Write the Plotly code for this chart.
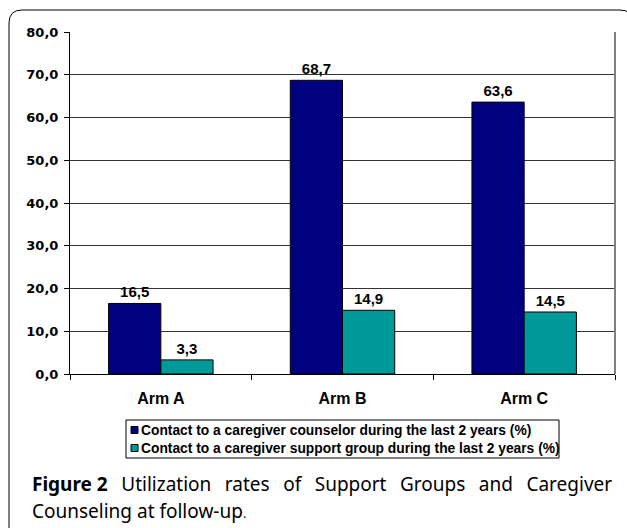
import plotly.graph_objects as go

categories = ["Arm A", "Arm B", "Arm C"]
counselor = [16.5, 68.7, 63.6]
support_group = [3.3, 14.9, 14.5]
series_names = [
    "Contact to a caregiver counselor during the last 2 years (%)",
    "Contact to a caregiver support group during the last 2 years (%)",
]
y_ticks = [0, 10, 20, 30, 40, 50, 60, 70, 80]
caption_bold = "Figure 2"
caption_line1_words = ["Utilization", "rates", "of", "Support", "Groups", "and", "Caregiver"]
caption_line2 = "Counseling at follow-up"

W, H = 627, 528
L, R, T, B = 70, 12, 32, 154
PW, PH = W - L - R, H - T - B


def px(x):
    return (x - L) / PW


def py(y):
    return (H - B - y) / PH


colors = ["#000080", "#009999"]
fig = go.Figure()
for name, vals, c in zip(series_names, [counselor, support_group], colors):
    fig.add_trace(go.Bar(
        x=categories, y=vals, name=name,
        marker=dict(color=c, line=dict(color="black", width=1)),
        texttemplate="%{y:.1f}", textposition="outside",
        textfont=dict(family="Liberation Sans", size=15, color="black", weight="bold"),
        cliponaxis=False, showlegend=False,
    ))

frame_path = (
    f"M {px(9)},{py(540)} L {px(9)},{py(23)} Q {px(9)},{py(10)} {px(22)},{py(10)} "
    f"L {px(620)},{py(10)} Q {px(633)},{py(10)} {px(633)},{py(23)} L {px(633)},{py(540)}"
)

shapes = [
    dict(type="line", xref="paper", yref="paper", x0=1, x1=1, y0=0, y1=1,
         line=dict(color="#808080", width=2)),
    dict(type="path", xref="paper", yref="paper", path=frame_path,
         line=dict(color="black", width=1)),
    # legend box
    dict(type="rect", xref="paper", yref="paper", x0=px(126), x1=px(559), y0=py(420), y1=py(458),
         line=dict(color="black", width=1), fillcolor="white"),
]
annotations = []
row_y = [430, 448]
for name, c, ry in zip(series_names, colors, row_y):
    shapes.append(dict(type="rect", xref="paper", yref="paper",
                       x0=px(131), x1=px(138), y0=py(ry - 3.5), y1=py(ry + 3.5),
                       line=dict(color="black", width=1), fillcolor=c))
    annotations.append(dict(xref="paper", yref="paper", x=px(139), y=py(ry),
                            xanchor="left", yanchor="middle", showarrow=False, text=name,
                            font=dict(family="Liberation Sans", size=13.8, color="black",
                                      weight="bold")))

gap = "&nbsp;<span style='font-size:14px'>&nbsp;</span> "
line1 = f"<b>{caption_bold}</b>{gap}" + gap.join(caption_line1_words)
annotations += [
    dict(xref="paper", yref="paper", x=px(30), y=py(484), xanchor="left", yanchor="middle",
         showarrow=False, text=line1,
         font=dict(family="Noto Sans", size=19, color="black")),
    dict(xref="paper", yref="paper", x=px(30), y=py(511), xanchor="left", yanchor="middle",
         showarrow=False,
         text=f"{caption_line2}<span style='font-size:13px'>.</span>",
         font=dict(family="Noto Sans", size=19, color="black")),
]

fig.update_layout(
    width=W, height=H,
    margin=dict(l=L, r=R, t=T, b=B, autoexpand=False),
    paper_bgcolor="white", plot_bgcolor="white",
    separators=",.",
    barmode="group", bargap=0.425, bargroupgap=0,
    showlegend=False,
    xaxis=dict(
        showline=True, linecolor="black", linewidth=1,
        ticks="outside", ticklen=5, tickcolor="black", tickson="boundaries",
        ticklabelstandoff=10,
        tickfont=dict(family="Liberation Sans", size=16, color="black", weight="bold"),
        showgrid=False,
    ),
    yaxis=dict(
        range=[0, 80], tickvals=y_ticks, tickformat=".1f",
        showline=True, linecolor="black", linewidth=1,
        ticks="outside", ticklen=5, tickcolor="black",
        ticklabelstandoff=3,
        tickfont=dict(family="DejaVu Sans", size=13, color="black", weight="bold"),
        showgrid=True, gridcolor="#333333", gridwidth=1,
        zeroline=False,
    ),
    shapes=shapes,
    annotations=annotations,
)

fig.write_html("out.html", config={"displayModeBar": False},
               post_script="document.body.style.margin='0px';")
